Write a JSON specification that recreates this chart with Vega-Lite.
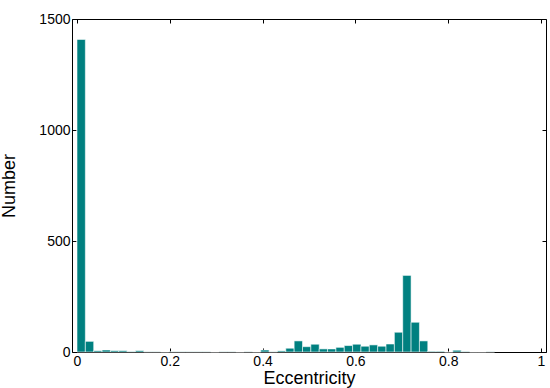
{
  "$schema": "https://vega.github.io/schema/vega-lite/v6.json",
  "width": 474,
  "height": 333,
  "autosize": "none",
  "padding": {"left": 72, "top": 19, "right": 4, "bottom": 36},
  "background": "white",
  "config": {
    "view": {"stroke": "black", "strokeWidth": 1},
    "font": "Liberation Sans",
    "axis": {
      "domain": false,
      "grid": false,
      "tickColor": "black",
      "tickSize": -4,
      "tickWidth": 1,
      "labelFont": "Liberation Sans",
      "labelFontSize": 14,
      "labelColor": "black",
      "titleFont": "Liberation Sans",
      "titleFontSize": 18,
      "titleFontWeight": "normal",
      "titleColor": "black"
    }
  },
  "data": {
    "values": [
      {"lo": 0.000, "hi": 0.018, "n": 1408},
      {"lo": 0.018, "hi": 0.036, "n": 48},
      {"lo": 0.036, "hi": 0.054, "n": 6},
      {"lo": 0.054, "hi": 0.072, "n": 9},
      {"lo": 0.072, "hi": 0.090, "n": 6},
      {"lo": 0.090, "hi": 0.108, "n": 6},
      {"lo": 0.108, "hi": 0.126, "n": 2},
      {"lo": 0.126, "hi": 0.144, "n": 6},
      {"lo": 0.144, "hi": 0.162, "n": 1},
      {"lo": 0.162, "hi": 0.180, "n": 1},
      {"lo": 0.180, "hi": 0.198, "n": 0},
      {"lo": 0.198, "hi": 0.216, "n": 1},
      {"lo": 0.216, "hi": 0.234, "n": 1},
      {"lo": 0.234, "hi": 0.252, "n": 1},
      {"lo": 0.252, "hi": 0.270, "n": 1},
      {"lo": 0.270, "hi": 0.288, "n": 1},
      {"lo": 0.288, "hi": 0.306, "n": 0},
      {"lo": 0.306, "hi": 0.324, "n": 1},
      {"lo": 0.324, "hi": 0.342, "n": 1},
      {"lo": 0.342, "hi": 0.360, "n": 0},
      {"lo": 0.360, "hi": 0.378, "n": 1},
      {"lo": 0.378, "hi": 0.396, "n": 0},
      {"lo": 0.396, "hi": 0.414, "n": 9},
      {"lo": 0.414, "hi": 0.432, "n": 1},
      {"lo": 0.432, "hi": 0.450, "n": 5},
      {"lo": 0.450, "hi": 0.468, "n": 17},
      {"lo": 0.468, "hi": 0.486, "n": 50},
      {"lo": 0.486, "hi": 0.504, "n": 24},
      {"lo": 0.504, "hi": 0.522, "n": 35},
      {"lo": 0.522, "hi": 0.540, "n": 14},
      {"lo": 0.540, "hi": 0.558, "n": 14},
      {"lo": 0.558, "hi": 0.576, "n": 21},
      {"lo": 0.576, "hi": 0.594, "n": 29},
      {"lo": 0.594, "hi": 0.612, "n": 35},
      {"lo": 0.612, "hi": 0.630, "n": 26},
      {"lo": 0.630, "hi": 0.648, "n": 32},
      {"lo": 0.648, "hi": 0.666, "n": 26},
      {"lo": 0.666, "hi": 0.684, "n": 36},
      {"lo": 0.684, "hi": 0.702, "n": 89},
      {"lo": 0.702, "hi": 0.720, "n": 345},
      {"lo": 0.720, "hi": 0.738, "n": 134},
      {"lo": 0.738, "hi": 0.756, "n": 50},
      {"lo": 0.756, "hi": 0.774, "n": 3},
      {"lo": 0.774, "hi": 0.792, "n": 3},
      {"lo": 0.792, "hi": 0.810, "n": 0},
      {"lo": 0.810, "hi": 0.828, "n": 8},
      {"lo": 0.828, "hi": 0.846, "n": 2},
      {"lo": 0.846, "hi": 0.864, "n": 0},
      {"lo": 0.864, "hi": 0.882, "n": 0},
      {"lo": 0.882, "hi": 0.900, "n": 1}
    ]
  },
  "layer": [
    {
      "mark": {"type": "bar", "orient": "vertical", "color": "#008080", "stroke": "white", "strokeWidth": 0.7, "strokeOpacity": 0.8},
      "encoding": {
        "x": {
          "field": "lo", "type": "quantitative",
          "scale": {"domain": [0, 1], "nice": false, "zero": false},
          "axis": {"orient": "bottom", "title": "Eccentricity", "format": "~g", "values": [0, 0.2, 0.4, 0.6, 0.8, 1], "labelPadding": 6, "titlePadding": 1}
        },
        "x2": {"field": "hi"},
        "y": {
          "field": "n", "type": "quantitative",
          "scale": {"domain": [0, 1500], "nice": false},
          "axis": {"orient": "left", "title": "Number", "format": "d", "values": [0, 500, 1000, 1500], "labelPadding": 6, "titlePadding": 20}
        },
        "y2": {"datum": 0}
      }
    },
    {
      "mark": {"type": "bar", "orient": "vertical", "opacity": 0},
      "encoding": {
        "x": {
          "field": "lo", "type": "quantitative",
          "axis": {"orient": "top", "title": null, "labels": false, "values": [0, 0.2, 0.4, 0.6, 0.8, 1]}
        },
        "x2": {"field": "hi"},
        "y": {
          "field": "n", "type": "quantitative",
          "axis": {"orient": "right", "title": null, "labels": false, "values": [0, 500, 1000, 1500]}
        },
        "y2": {"datum": 0}
      }
    }
  ]
}
